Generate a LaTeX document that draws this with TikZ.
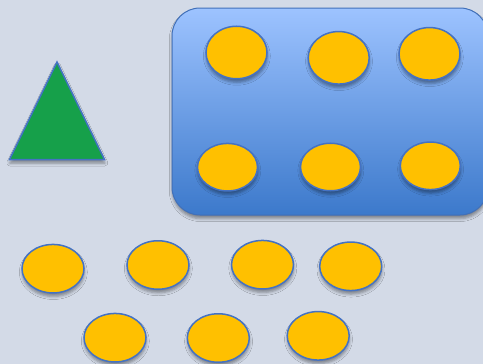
\documentclass[tikz,border=0pt]{standalone}
\usetikzlibrary{shapes.geometric,shadows.blur}
\definecolor{bg}{RGB}{211,218,231}
\definecolor{edge}{RGB}{68,114,196}
\definecolor{boxedge}{RGB}{65,112,185}
\definecolor{gold}{RGB}{255,192,0}
\definecolor{grn}{RGB}{22,160,74}
\definecolor{boxtop}{RGB}{157,195,255}
\definecolor{boxbot}{RGB}{60,121,203}
\begin{document}
\begin{tikzpicture}[x=1pt,y=-1pt,
  shad/.style={blur shadow={shadow xshift=0.3pt, shadow yshift=-3.5pt, shadow blur radius=3pt, shadow opacity=40}},
  egg/.style={ellipse, draw=edge, line width=1.5pt, fill=gold, inner sep=0pt, outer sep=0pt, shad},
  low/.style={egg, minimum width=62pt, minimum height=48.5pt},
  boxlow/.style={egg, minimum width=60pt, minimum height=47.5pt},
  boxhigh/.style={egg, minimum width=61pt, minimum height=52.5pt}]
\useasboundingbox (0,0) rectangle (483,364);
\fill[bg] (0,0) rectangle (483,364);
\clip (0,0) rectangle (483,364);
% panel
\draw[draw=boxedge, line width=1pt, rounded corners=28pt, top color=boxtop, bottom color=boxbot, shad]
  (172,8) rectangle (488,215);
% triangle
\draw[draw=edge, line width=1.5pt, fill=grn, shad] (57,62) -- (104.5,159.5) -- (9.5,159.5) -- cycle;
% ellipses in panel
\node[boxhigh] (b1) at (236.5,52.5) {};
\node[boxhigh] (b2) at (338.7,57.8) {};
\node[boxhigh] (b3) at (429.5,53.8) {};
\node[boxlow] (b4) at (227.5,167.2) {};
\node[boxlow] (b5) at (330.5,167) {};
\node[boxlow] (b6) at (430.3,165.8) {};
% loose ellipses
\node[low] (l1) at (53,268.7) {};
\node[low] (l2) at (158,265) {};
\node[low] (l3) at (262.5,264.7) {};
\node[low] (l4) at (350.7,266.3) {};
\node[low] (l5) at (115,337.7) {};
\node[low] (l6) at (218.3,338) {};
\node[low] (l7) at (318.2,335.8) {};
\end{tikzpicture}
\end{document}
